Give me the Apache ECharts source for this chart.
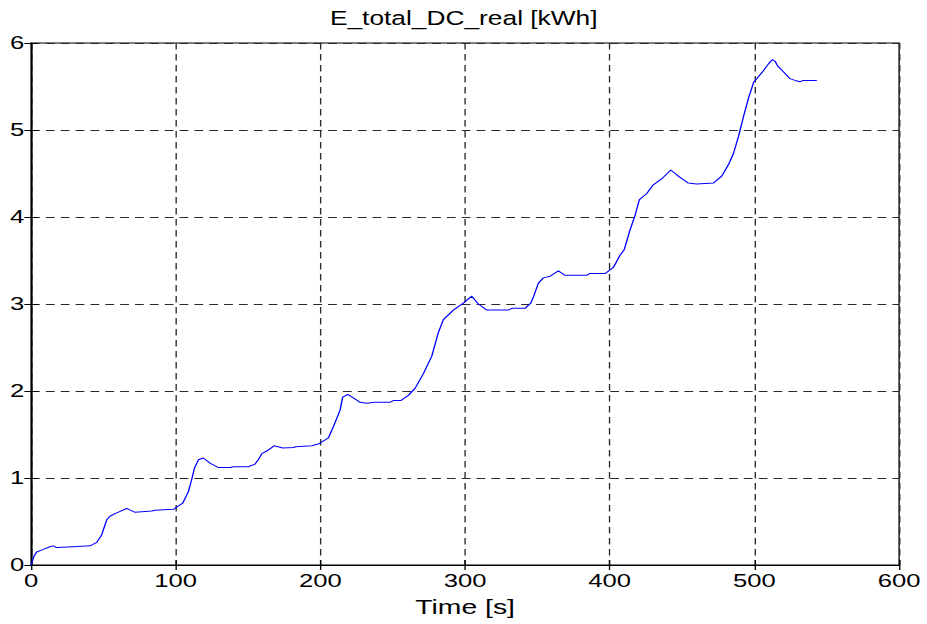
<!DOCTYPE html>
<html>
<head>
<meta charset="utf-8">
<script src="https://cdn.jsdelivr.net/npm/echarts@6/dist/echarts.min.js"></script>
<style>
  html, body { margin: 0; padding: 0; background: #fff; overflow: hidden; }
  #wrap { width: 927px; height: 624px; overflow: hidden; }
  /* the figure is drawn narrow and widened, giving the broad lettering of the plot */
  #chart { width: 687px; height: 624px; transform: scaleX(1.35); transform-origin: 0 0; }
</style>
</head>
<body>
<div id="wrap"><div id="chart"></div></div>
<script>
// Time stamps [s]
const timeSec = [
  0, 2, 3.9, 8.5, 13, 15.4, 17.7, 29.3, 40.8, 45.4, 48.8, 52.3, 54.6, 58, 62, 66.1,
  71.9, 83.4, 85.7, 98.4, 104.8, 108.7, 111, 112.9, 115.7, 119.1, 123.7, 129.5,
  137.6, 139.8, 150.2, 154.8, 157.1, 159.5, 162.9, 168, 174, 181.3, 183, 194,
  198.6, 205.5, 209, 213.6, 215.4, 218.9, 222.8, 227.4, 232, 237.8, 248.1, 250.4,
  255.5, 260.8, 265.4, 271.2, 277, 281.5, 285, 291.9, 298.8, 304.6, 309.2, 315,
  330, 332.3, 341.5, 345.4, 347.2, 350.7, 354.1, 358.8, 364.5, 369.1, 384.1,
  385.9, 396.8, 402.5, 407.1, 409.9, 414, 417.5, 420.5, 425.6, 430.1, 436, 442.2,
  447.4, 454.3, 460.1, 471.6, 477.4, 482, 485.5, 488.9, 492.4, 495.8, 499.5,
  501.6, 506.2, 509.7, 512.4, 514.3, 515.9, 520, 524.6, 528.1, 531.5, 533.8, 543.1
];
// Accumulated DC energy [kWh]
const energyKWh = [
  0, 0.10, 0.15, 0.18, 0.21, 0.22, 0.20, 0.21, 0.22, 0.26, 0.345, 0.52, 0.56, 0.59, 0.62, 0.65,
  0.605, 0.62, 0.63, 0.64, 0.71, 0.84, 0.98, 1.11, 1.21, 1.23, 1.17, 1.12,
  1.12, 1.13, 1.13, 1.16, 1.21, 1.28, 1.31, 1.37, 1.345, 1.35, 1.36, 1.37,
  1.39, 1.46, 1.59, 1.78, 1.93, 1.96, 1.92, 1.87, 1.86, 1.87, 1.87, 1.89,
  1.89, 1.95, 2.03, 2.20, 2.40, 2.67, 2.82, 2.93, 3.01, 3.09, 3.00, 2.93,
  2.93, 2.95, 2.95, 3.01, 3.08, 3.24, 3.30, 3.32, 3.38, 3.33, 3.33,
  3.35, 3.35, 3.42, 3.56, 3.62, 3.85, 4.02, 4.20, 4.27, 4.37, 4.44, 4.54,
  4.47, 4.39, 4.38, 4.39, 4.47, 4.60, 4.73, 4.92, 5.15, 5.36, 5.55,
  5.59, 5.68, 5.76, 5.81, 5.79, 5.74, 5.67, 5.59, 5.57, 5.555, 5.57, 5.57
];
const xTicks = [0, 100, 200, 300, 400, 500, 600];
const yTicks = [0, 1, 2, 3, 4, 5, 6];
const titleText = 'E_total_DC_real [kWh]';
const xName = 'Time [s]';

const FONT = 'Liberation Sans, Arial, Helvetica, sans-serif';
const gridDash = { color: '#2a2a2a', width: 1, type: [6.5, 4.5] };

const chart = echarts.init(document.getElementById('chart'), null, { renderer: 'svg' });
chart.setOption({
  animation: false,
  backgroundColor: '#fff',
  title: {
    text: titleText, left: 'center', top: 8.5, padding: 0,
    textStyle: { fontFamily: FONT, fontSize: 19.5, fontWeight: 'normal', color: '#000' }
  },
  grid: { left: 23, right: 21, top: 43, bottom: 59, show: true, borderColor: '#000', borderWidth: 1 },
  xAxis: [{
    type: 'value', min: xTicks[0], max: xTicks[xTicks.length - 1], interval: 100,
    name: xName, nameLocation: 'middle', nameGap: 31,
    nameTextStyle: { fontFamily: FONT, fontSize: 21, color: '#000' },
    axisLine: { show: true, lineStyle: { color: '#000', width: 1 } },
    axisTick: { show: true, inside: true, length: 5, lineStyle: { color: '#000' } },
    axisLabel: { margin: 6, fontFamily: FONT, fontSize: 19, color: '#000' },
    splitLine: { show: true, lineStyle: gridDash }
  }, {
    type: 'value', position: 'top', min: xTicks[0], max: xTicks[xTicks.length - 1], interval: 100,
    axisLine: { show: true, lineStyle: { color: '#000' } },
    axisTick: { show: true, inside: true, length: 5, lineStyle: { color: '#000' } },
    axisLabel: { show: false }, splitLine: { show: false }
  }],
  yAxis: [{
    type: 'value', min: yTicks[0], max: yTicks[yTicks.length - 1], interval: 1,
    axisLine: { show: true, lineStyle: { color: '#000', width: 1 } },
    axisTick: { show: true, inside: true, length: 5, lineStyle: { color: '#000' } },
    axisLabel: { margin: 5, fontFamily: FONT, fontSize: 19, color: '#000' },
    splitLine: { show: true, lineStyle: gridDash }
  }, {
    type: 'value', position: 'right', min: yTicks[0], max: yTicks[yTicks.length - 1], interval: 1,
    axisLine: { show: true, lineStyle: { color: '#000' } },
    axisTick: { show: true, inside: true, length: 5, lineStyle: { color: '#000' } },
    axisLabel: { show: false }, splitLine: { show: false }
  }],
  series: [{
    type: 'line',
    xAxisIndex: 0, yAxisIndex: 0,
    data: timeSec.map((t, i) => [t, energyKWh[i]]),
    showSymbol: false,
    lineStyle: { color: '#0000ff', width: 1 },
    z: 5
  }]
});
</script>
</body>
</html>
